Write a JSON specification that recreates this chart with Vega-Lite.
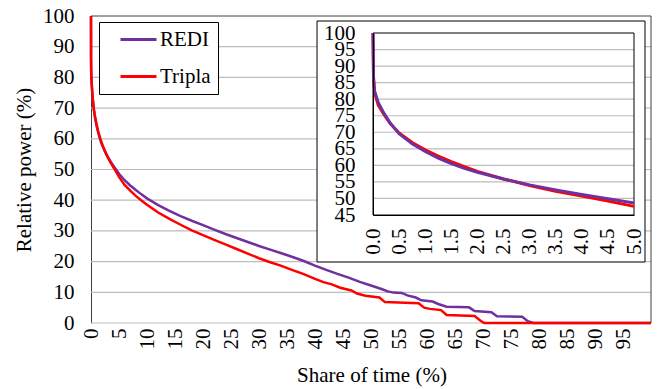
{
  "$schema": "https://vega.github.io/schema/vega-lite/v6.json",
  "width": 560,
  "height": 307,
  "autosize": {"type": "none"},
  "padding": {"left": 91, "top": 16, "right": 6, "bottom": 66},
  "background": "white",
  "config": {
    "font": "Liberation Serif",
    "view": {"stroke": null},
    "axis": {
      "labelFont": "Liberation Serif",
      "titleFont": "Liberation Serif",
      "labelFontSize": 21,
      "titleFontSize": 21,
      "labelColor": "#000000",
      "titleColor": "#000000",
      "titleFontWeight": "normal",
      "tickSize": 0,
      "labelOverlap": false,
      "labelFlush": false
    },
    "legend": {
      "title": null, "orient": "none", "legendX": 8, "legendY": 6, "strokeColor": "#000000", "fillColor": "white",
      "padding": 7, "symbolType": "M-5.143,0H5.143", "symbolSize": 49, "symbolStrokeWidth": 3, "symbolOffset": 22,
      "labelFont": "Liberation Serif", "labelFontSize": 21, "labelColor": "#000000", "labelOffset": 11, "rowPadding": 15
    }
  },
  "datasets": {
    "curves": [
      {"series": "REDI", "x": 0, "y": 100}, {"series": "REDI", "x": 0.01, "y": 86}, {"series": "REDI", "x": 0.03, "y": 82.5},
      {"series": "REDI", "x": 0.1, "y": 79}, {"series": "REDI", "x": 0.2, "y": 76}, {"series": "REDI", "x": 0.33, "y": 72.8},
      {"series": "REDI", "x": 0.5, "y": 69.6}, {"series": "REDI", "x": 0.75, "y": 66.5}, {"series": "REDI", "x": 1, "y": 64.2},
      {"series": "REDI", "x": 1.25, "y": 62.2}, {"series": "REDI", "x": 1.5, "y": 60.5}, {"series": "REDI", "x": 1.75, "y": 59.1},
      {"series": "REDI", "x": 2, "y": 57.9}, {"series": "REDI", "x": 2.5, "y": 55.9}, {"series": "REDI", "x": 3, "y": 54.1},
      {"series": "REDI", "x": 3.5, "y": 52.6}, {"series": "REDI", "x": 4, "y": 51.2}, {"series": "REDI", "x": 4.5, "y": 49.9},
      {"series": "REDI", "x": 5, "y": 48.6}, {"series": "REDI", "x": 6, "y": 46.5}, {"series": "REDI", "x": 7, "y": 44.8},
      {"series": "REDI", "x": 8, "y": 43.3}, {"series": "REDI", "x": 9, "y": 41.9}, {"series": "REDI", "x": 10, "y": 40.6},
      {"series": "REDI", "x": 12, "y": 38.4}, {"series": "REDI", "x": 14, "y": 36.5}, {"series": "REDI", "x": 16, "y": 34.8},
      {"series": "REDI", "x": 18, "y": 33.3}, {"series": "REDI", "x": 20, "y": 31.9}, {"series": "REDI", "x": 22, "y": 30.4},
      {"series": "REDI", "x": 24, "y": 29.0}, {"series": "REDI", "x": 26, "y": 27.7}, {"series": "REDI", "x": 28, "y": 26.4},
      {"series": "REDI", "x": 30, "y": 25.1}, {"series": "REDI", "x": 32, "y": 23.9}, {"series": "REDI", "x": 34, "y": 22.7},
      {"series": "REDI", "x": 36, "y": 21.5}, {"series": "REDI", "x": 38, "y": 20.2}, {"series": "REDI", "x": 40, "y": 18.7},
      {"series": "REDI", "x": 42, "y": 17.3}, {"series": "REDI", "x": 44, "y": 16.0}, {"series": "REDI", "x": 46, "y": 14.8},
      {"series": "REDI", "x": 48, "y": 13.4}, {"series": "REDI", "x": 50, "y": 12.2}, {"series": "REDI", "x": 52, "y": 11.0},
      {"series": "REDI", "x": 53, "y": 10.3}, {"series": "REDI", "x": 54, "y": 9.9}, {"series": "REDI", "x": 55.5, "y": 9.8},
      {"series": "REDI", "x": 56.5, "y": 9.0}, {"series": "REDI", "x": 58, "y": 8.3}, {"series": "REDI", "x": 59, "y": 7.4},
      {"series": "REDI", "x": 61, "y": 7.0}, {"series": "REDI", "x": 62, "y": 6.2}, {"series": "REDI", "x": 63.5, "y": 5.3},
      {"series": "REDI", "x": 67.5, "y": 5.1}, {"series": "REDI", "x": 68.5, "y": 3.9}, {"series": "REDI", "x": 71.5, "y": 3.5},
      {"series": "REDI", "x": 72.5, "y": 2.2}, {"series": "REDI", "x": 77, "y": 2.0}, {"series": "REDI", "x": 78, "y": 0.6},
      {"series": "REDI", "x": 79, "y": 0}, {"series": "REDI", "x": 100, "y": 0},
      {"series": "Tripla", "x": 0, "y": 100}, {"series": "Tripla", "x": 0.01, "y": 87}, {"series": "Tripla", "x": 0.03, "y": 82},
      {"series": "Tripla", "x": 0.1, "y": 78.2}, {"series": "Tripla", "x": 0.2, "y": 75.6}, {"series": "Tripla", "x": 0.33, "y": 72.6},
      {"series": "Tripla", "x": 0.5, "y": 69.8}, {"series": "Tripla", "x": 0.75, "y": 66.9}, {"series": "Tripla", "x": 1, "y": 64.7},
      {"series": "Tripla", "x": 1.25, "y": 62.8}, {"series": "Tripla", "x": 1.5, "y": 61.1}, {"series": "Tripla", "x": 1.75, "y": 59.6},
      {"series": "Tripla", "x": 2, "y": 58.2}, {"series": "Tripla", "x": 2.5, "y": 55.9}, {"series": "Tripla", "x": 3, "y": 53.9},
      {"series": "Tripla", "x": 3.5, "y": 52.2}, {"series": "Tripla", "x": 4, "y": 50.7}, {"series": "Tripla", "x": 4.5, "y": 49.2},
      {"series": "Tripla", "x": 5, "y": 47.6}, {"series": "Tripla", "x": 6, "y": 45.0}, {"series": "Tripla", "x": 7, "y": 43.1},
      {"series": "Tripla", "x": 8, "y": 41.4}, {"series": "Tripla", "x": 9, "y": 39.9}, {"series": "Tripla", "x": 10, "y": 38.5},
      {"series": "Tripla", "x": 12, "y": 36.0}, {"series": "Tripla", "x": 14, "y": 33.9}, {"series": "Tripla", "x": 16, "y": 32.0},
      {"series": "Tripla", "x": 18, "y": 30.2}, {"series": "Tripla", "x": 20, "y": 28.6}, {"series": "Tripla", "x": 22, "y": 27.1},
      {"series": "Tripla", "x": 24, "y": 25.6}, {"series": "Tripla", "x": 26, "y": 24.1}, {"series": "Tripla", "x": 28, "y": 22.6},
      {"series": "Tripla", "x": 30, "y": 21.1}, {"series": "Tripla", "x": 32, "y": 19.8}, {"series": "Tripla", "x": 34, "y": 18.6},
      {"series": "Tripla", "x": 36, "y": 17.2}, {"series": "Tripla", "x": 38, "y": 15.9}, {"series": "Tripla", "x": 40, "y": 14.4},
      {"series": "Tripla", "x": 41.5, "y": 13.3}, {"series": "Tripla", "x": 43, "y": 12.6}, {"series": "Tripla", "x": 44.5, "y": 11.5},
      {"series": "Tripla", "x": 46.5, "y": 10.6}, {"series": "Tripla", "x": 47.5, "y": 9.6}, {"series": "Tripla", "x": 49, "y": 8.9},
      {"series": "Tripla", "x": 51.5, "y": 8.3}, {"series": "Tripla", "x": 52.5, "y": 6.8}, {"series": "Tripla", "x": 58.5, "y": 6.4},
      {"series": "Tripla", "x": 59.5, "y": 5.0}, {"series": "Tripla", "x": 60.5, "y": 4.6}, {"series": "Tripla", "x": 62.5, "y": 4.2},
      {"series": "Tripla", "x": 63.5, "y": 2.6}, {"series": "Tripla", "x": 68.5, "y": 2.3}, {"series": "Tripla", "x": 69.5, "y": 0.8},
      {"series": "Tripla", "x": 70.2, "y": 0}, {"series": "Tripla", "x": 100, "y": 0}
    ]
  },
  "data": {"name": "curves"},
  "layer": [
    {"data": {"values": [{}]}, "mark": {"type": "rule", "color": "#BDBDBD", "strokeWidth": 1.2}, "encoding": {"y": {"datum": 0, "type": "quantitative", "scale": {"domain": [0, 100], "nice": false, "zero": false}, "axis": null}}},
    {"data": {"values": [{}]}, "mark": {"type": "rule", "color": "#BDBDBD", "strokeWidth": 1.2}, "encoding": {"y": {"datum": 10, "type": "quantitative", "scale": {"domain": [0, 100], "nice": false, "zero": false}, "axis": null}}},
    {"data": {"values": [{}]}, "mark": {"type": "rule", "color": "#BDBDBD", "strokeWidth": 1.2}, "encoding": {"y": {"datum": 20, "type": "quantitative", "scale": {"domain": [0, 100], "nice": false, "zero": false}, "axis": null}}},
    {"data": {"values": [{}]}, "mark": {"type": "rule", "color": "#BDBDBD", "strokeWidth": 1.2}, "encoding": {"y": {"datum": 30, "type": "quantitative", "scale": {"domain": [0, 100], "nice": false, "zero": false}, "axis": null}}},
    {"data": {"values": [{}]}, "mark": {"type": "rule", "color": "#BDBDBD", "strokeWidth": 1.2}, "encoding": {"y": {"datum": 40, "type": "quantitative", "scale": {"domain": [0, 100], "nice": false, "zero": false}, "axis": null}}},
    {"data": {"values": [{}]}, "mark": {"type": "rule", "color": "#BDBDBD", "strokeWidth": 1.2}, "encoding": {"y": {"datum": 50, "type": "quantitative", "scale": {"domain": [0, 100], "nice": false, "zero": false}, "axis": null}}},
    {"data": {"values": [{}]}, "mark": {"type": "rule", "color": "#BDBDBD", "strokeWidth": 1.2}, "encoding": {"y": {"datum": 60, "type": "quantitative", "scale": {"domain": [0, 100], "nice": false, "zero": false}, "axis": null}}},
    {"data": {"values": [{}]}, "mark": {"type": "rule", "color": "#BDBDBD", "strokeWidth": 1.2}, "encoding": {"y": {"datum": 70, "type": "quantitative", "scale": {"domain": [0, 100], "nice": false, "zero": false}, "axis": null}}},
    {"data": {"values": [{}]}, "mark": {"type": "rule", "color": "#BDBDBD", "strokeWidth": 1.2}, "encoding": {"y": {"datum": 80, "type": "quantitative", "scale": {"domain": [0, 100], "nice": false, "zero": false}, "axis": null}}},
    {"data": {"values": [{}]}, "mark": {"type": "rule", "color": "#BDBDBD", "strokeWidth": 1.2}, "encoding": {"y": {"datum": 90, "type": "quantitative", "scale": {"domain": [0, 100], "nice": false, "zero": false}, "axis": null}}},
    {
      "transform": [{"filter": "datum.series === 'REDI'"}],
      "mark": {"type": "line", "strokeWidth": 2.5},
      "encoding": {
        "x": {"field": "x", "type": "quantitative",
          "scale": {"domain": [0, 100], "nice": false, "zero": false},
          "axis": {"values": [0, 5, 10, 15, 20, 25, 30, 35, 40, 45, 50, 55, 60, 65, 70, 75, 80, 85, 90, 95],
            "labelAngle": -90, "labelPadding": 5, "labelOverlap": false, "grid": false, "domain": false, "ticks": false,
            "labelFont": "Liberation Serif", "labelFontSize": 21,
            "title": "Share of time (%)", "titleX": 280.5, "titleY": 52, "titleBaseline": "middle", "titleAnchor": "middle"}},
        "y": {"field": "y", "type": "quantitative",
          "scale": {"domain": [0, 100], "nice": false, "zero": false},
          "axis": {"values": [0, 10, 20, 30, 40, 50, 60, 70, 80, 90, 100],
            "labelPadding": 17, "labelOverlap": false, "grid": false,
            "domain": true, "domainColor": "#404040", "domainWidth": 1, "ticks": false,
            "labelFont": "Liberation Serif", "labelFontSize": 21,
            "title": "Relative power (%)", "titleAngle": -90, "titleX": -67, "titleY": 153.5, "titleBaseline": "middle", "titleAlign": "center"}},
        "color": {"field": "series", "type": "nominal",
          "scale": {"domain": ["REDI", "Tripla"], "range": ["#7030A0", "#FF0000"]}}
      }
    },
    {
      "transform": [{"filter": "datum.series === 'Tripla'"}],
      "mark": {"type": "line", "strokeWidth": 2.5},
      "encoding": {
        "x": {"field": "x", "type": "quantitative", "scale": {"domain": [0, 100], "nice": false, "zero": false}, "axis": null},
        "y": {"field": "y", "type": "quantitative", "scale": {"domain": [0, 100], "nice": false, "zero": false}, "axis": null},
        "color": {"field": "series", "type": "nominal",
          "scale": {"domain": ["REDI", "Tripla"], "range": ["#7030A0", "#FF0000"]}}
      }
    },
    {
      "data": {"values": [{}]},
      "mark": {"type": "rule", "color": "#404040", "strokeWidth": 1},
      "encoding": {"y": {"datum": 100, "type": "quantitative", "scale": {"domain": [0, 100], "nice": false, "zero": false}, "axis": null}}
    },
    {
      "data": {"values": [{}]},
      "mark": {"type": "rule", "color": "#404040", "strokeWidth": 1},
      "encoding": {"x": {"datum": 100, "type": "quantitative", "scale": {"domain": [0, 100], "nice": false, "zero": false}, "axis": null}}
    },
    {
      "data": {"values": [{}]},
      "mark": {"type": "rect", "fill": "white", "stroke": "#000000", "strokeWidth": 1},
      "encoding": {
        "x": {"datum": 40.36, "type": "quantitative", "scale": {"domain": [0, 100], "nice": false, "zero": false}, "axis": null},
        "x2": {"datum": 98.93},
        "y": {"datum": 98.37, "type": "quantitative", "scale": {"domain": [0, 100], "nice": false, "zero": false}, "axis": null},
        "y2": {"datum": 19.87}
      }
    },
    {"data": {"values": [{}]}, "mark": {"type": "rule", "color": "#BDBDBD", "strokeWidth": 1.2}, "encoding": {"x": {"datum": 0, "type": "quantitative", "scale": {"domain": [0, 5], "range": [282, 543], "nice": false, "zero": false}, "axis": null}, "x2": {"datum": 5}, "y": {"datum": 50, "type": "quantitative", "scale": {"domain": [45, 100], "range": [199, 17], "nice": false, "zero": false}, "axis": null}}},
    {"data": {"values": [{}]}, "mark": {"type": "rule", "color": "#BDBDBD", "strokeWidth": 1.2}, "encoding": {"x": {"datum": 0, "type": "quantitative", "scale": {"domain": [0, 5], "range": [282, 543], "nice": false, "zero": false}, "axis": null}, "x2": {"datum": 5}, "y": {"datum": 55, "type": "quantitative", "scale": {"domain": [45, 100], "range": [199, 17], "nice": false, "zero": false}, "axis": null}}},
    {"data": {"values": [{}]}, "mark": {"type": "rule", "color": "#BDBDBD", "strokeWidth": 1.2}, "encoding": {"x": {"datum": 0, "type": "quantitative", "scale": {"domain": [0, 5], "range": [282, 543], "nice": false, "zero": false}, "axis": null}, "x2": {"datum": 5}, "y": {"datum": 60, "type": "quantitative", "scale": {"domain": [45, 100], "range": [199, 17], "nice": false, "zero": false}, "axis": null}}},
    {"data": {"values": [{}]}, "mark": {"type": "rule", "color": "#BDBDBD", "strokeWidth": 1.2}, "encoding": {"x": {"datum": 0, "type": "quantitative", "scale": {"domain": [0, 5], "range": [282, 543], "nice": false, "zero": false}, "axis": null}, "x2": {"datum": 5}, "y": {"datum": 65, "type": "quantitative", "scale": {"domain": [45, 100], "range": [199, 17], "nice": false, "zero": false}, "axis": null}}},
    {"data": {"values": [{}]}, "mark": {"type": "rule", "color": "#BDBDBD", "strokeWidth": 1.2}, "encoding": {"x": {"datum": 0, "type": "quantitative", "scale": {"domain": [0, 5], "range": [282, 543], "nice": false, "zero": false}, "axis": null}, "x2": {"datum": 5}, "y": {"datum": 70, "type": "quantitative", "scale": {"domain": [45, 100], "range": [199, 17], "nice": false, "zero": false}, "axis": null}}},
    {"data": {"values": [{}]}, "mark": {"type": "rule", "color": "#BDBDBD", "strokeWidth": 1.2}, "encoding": {"x": {"datum": 0, "type": "quantitative", "scale": {"domain": [0, 5], "range": [282, 543], "nice": false, "zero": false}, "axis": null}, "x2": {"datum": 5}, "y": {"datum": 75, "type": "quantitative", "scale": {"domain": [45, 100], "range": [199, 17], "nice": false, "zero": false}, "axis": null}}},
    {"data": {"values": [{}]}, "mark": {"type": "rule", "color": "#BDBDBD", "strokeWidth": 1.2}, "encoding": {"x": {"datum": 0, "type": "quantitative", "scale": {"domain": [0, 5], "range": [282, 543], "nice": false, "zero": false}, "axis": null}, "x2": {"datum": 5}, "y": {"datum": 80, "type": "quantitative", "scale": {"domain": [45, 100], "range": [199, 17], "nice": false, "zero": false}, "axis": null}}},
    {"data": {"values": [{}]}, "mark": {"type": "rule", "color": "#BDBDBD", "strokeWidth": 1.2}, "encoding": {"x": {"datum": 0, "type": "quantitative", "scale": {"domain": [0, 5], "range": [282, 543], "nice": false, "zero": false}, "axis": null}, "x2": {"datum": 5}, "y": {"datum": 85, "type": "quantitative", "scale": {"domain": [45, 100], "range": [199, 17], "nice": false, "zero": false}, "axis": null}}},
    {"data": {"values": [{}]}, "mark": {"type": "rule", "color": "#BDBDBD", "strokeWidth": 1.2}, "encoding": {"x": {"datum": 0, "type": "quantitative", "scale": {"domain": [0, 5], "range": [282, 543], "nice": false, "zero": false}, "axis": null}, "x2": {"datum": 5}, "y": {"datum": 90, "type": "quantitative", "scale": {"domain": [45, 100], "range": [199, 17], "nice": false, "zero": false}, "axis": null}}},
    {"data": {"values": [{}]}, "mark": {"type": "rule", "color": "#BDBDBD", "strokeWidth": 1.2}, "encoding": {"x": {"datum": 0, "type": "quantitative", "scale": {"domain": [0, 5], "range": [282, 543], "nice": false, "zero": false}, "axis": null}, "x2": {"datum": 5}, "y": {"datum": 95, "type": "quantitative", "scale": {"domain": [45, 100], "range": [199, 17], "nice": false, "zero": false}, "axis": null}}},
    {
      "data": {"values": [{}]},
      "mark": {"type": "rect", "filled": false, "stroke": "#000000", "strokeWidth": 1},
      "encoding": {
        "x": {"datum": 0, "type": "quantitative", "scale": {"domain": [0, 5], "range": [282, 543], "nice": false, "zero": false}, "axis": null},
        "x2": {"datum": 5},
        "y": {"datum": 100, "type": "quantitative", "scale": {"domain": [45, 100], "range": [199, 17], "nice": false, "zero": false}, "axis": null},
        "y2": {"datum": 45}
      }
    },
    {
      "transform": [{"filter": "datum.series === 'Tripla' && datum.x <= 5"}],
      "mark": {"type": "line", "strokeWidth": 3, "color": "#FF0000"},
      "encoding": {
        "x": {"field": "x", "type": "quantitative",
          "scale": {"domain": [0, 5], "range": [282, 543], "nice": false, "zero": false},
          "axis": {"orient": "bottom", "offset": -108, "values": [0, 0.5, 1, 1.5, 2, 2.5, 3, 3.5, 4, 4.5, 5], "format": ".1f",
            "labelAngle": -90, "labelPadding": 13, "labelOverlap": false, "grid": false, "domain": true, "domainColor": "#000000", "ticks": false,
            "labelFont": "Liberation Serif", "labelFontSize": 21, "title": null, "zindex": 1}},
        "y": {"field": "y", "type": "quantitative",
          "scale": {"domain": [45, 100], "range": [199, 17], "nice": false, "zero": false},
          "axis": {"orient": "left", "offset": -282, "values": [45, 50, 55, 60, 65, 70, 75, 80, 85, 90, 95, 100],
            "labelPadding": 18, "labelOverlap": false, "grid": false,
            "domain": true, "domainColor": "#000000", "ticks": false,
            "labelFont": "Liberation Serif", "labelFontSize": 21, "title": null, "zindex": 1}}
      }
    },
    {
      "transform": [{"filter": "datum.series === 'REDI' && datum.x <= 5"}],
      "mark": {"type": "line", "strokeWidth": 3, "color": "#7030A0"},
      "encoding": {
        "x": {"field": "x", "type": "quantitative", "scale": {"domain": [0, 5], "range": [282, 543], "nice": false, "zero": false}, "axis": null},
        "y": {"field": "y", "type": "quantitative", "scale": {"domain": [45, 100], "range": [199, 17], "nice": false, "zero": false}, "axis": null}
      }
    }
  ],
  "resolve": {"scale": {"x": "independent", "y": "independent"}}
}
